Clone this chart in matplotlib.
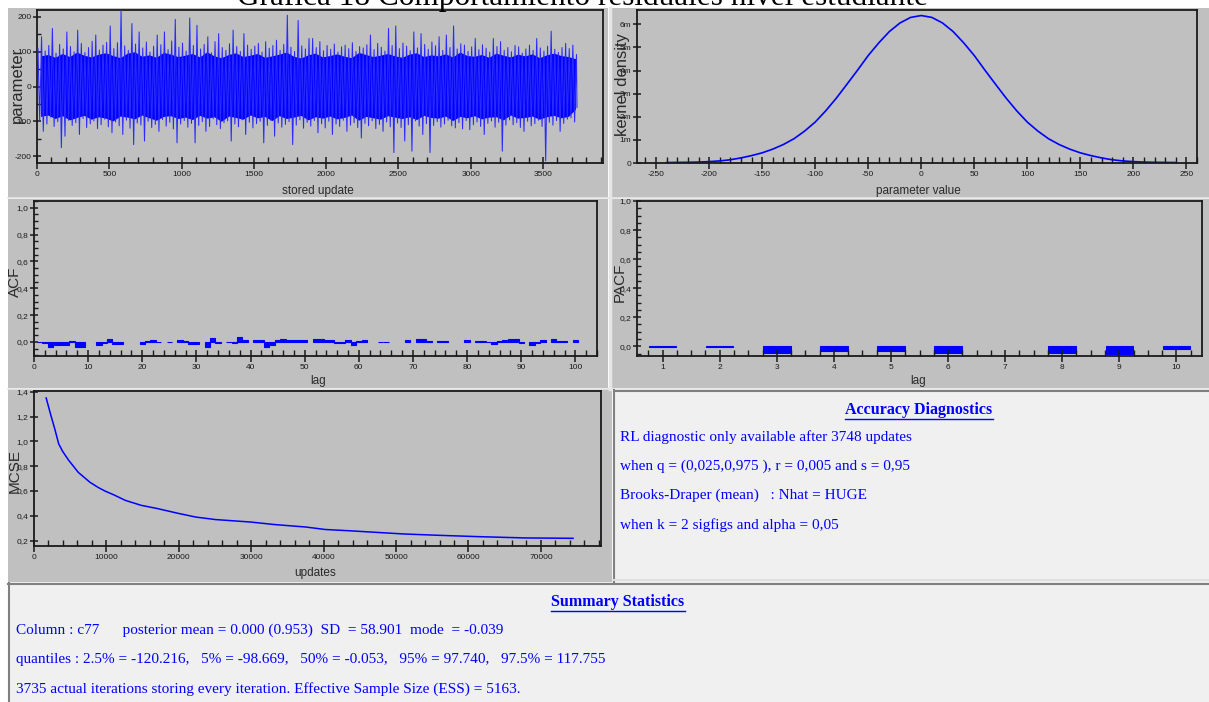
import matplotlib
matplotlib.use("Agg")
import matplotlib.pyplot as plt
import numpy as np
from matplotlib.patches import Rectangle
from matplotlib.lines import Line2D
from matplotlib.ticker import MultipleLocator, FuncFormatter, FixedLocator

plt.rcParams['axes.unicode_minus'] = False

# ---- data ----
# trace: per 25-update bin, highest and lowest excursion of the chain
trace_hi = [110, 143, 102, 118, 167, 96, 121, 108, 157, 115,
            100, 162, 124, 98, 112, 130, 148, 105, 119, 127,
            174, 109, 126, 219, 117, 104, 181, 122, 157, 111,
            128, 99, 116, 148, 120, 157, 106, 131, 193, 113,
            125, 102, 197, 118, 176, 108, 121, 143, 97, 129,
            152, 112, 104, 123, 162, 115, 101, 152, 119, 107,
            116, 124, 99, 129, 110, 118, 133, 104, 121, 205,
            113, 101, 190, 117, 108, 138, 138, 112, 129, 103,
            118, 107, 122, 99, 114, 119, 109, 126, 101, 115,
            111, 120, 148, 106, 124, 113, 102, 167, 118, 174,
            109, 125, 116, 103, 157, 111, 152, 121, 107, 128,
            117, 143, 104, 148, 112, 174, 108, 123, 119, 101,
            114, 138, 106, 120, 110, 99, 138, 115, 129, 104,
            112, 100, 118, 114, 96, 108, 119, 104, 138, 111,
            102, 116, 159, 107, 98, 112, 124, 109, 119, 92]
trace_lo = [-96, -129, -108, -88, -115, -101, -176, -143, -97, -112,
            -104, -138, -92, -118, -107, -99, -121, -110, -94, -116,
            -133, -102, -113, -138, -97, -120, -167, -105, -111, -157,
            -100, -118, -109, -129, -95, -114, -103, -122, -162, -108,
            -98, -117, -106, -162, -112, -101, -129, -115, -93, -110,
            -121, -104, -99, -157, -108, -116, -96, -138, -103, -119,
            -107, -100, -162, -112, -98, -143, -105, -117, -109, -101,
            -167, -111, -96, -120, -103, -114, -98, -133, -107, -119,
            -100, -138, -108, -115, -97, -129, -111, -104, -118, -148,
            -106, -113, -99, -121, -109, -129, -102, -116, -190, -105,
            -118, -157, -110, -186, -99, -114, -138, -107, -190, -112,
            -101, -117, -108, -97, -113, -119, -104, -122, -98, -124,
            -110, -102, -115, -138, -106, -99, -117, -103, -186, -111,
            -96, -110, -104, -118, -129, -100, -113, -107, -97, -115,
            -214, -103, -111, -98, -129, -106, -94, -90, -102, -60]
# dense core of the trace, per 50-update bin
core_hi = [88, 92, 84, 95, 86, 99, 90, 85, 93, 97, 89, 83, 96, 100, 87,
           91, 84, 98, 93, 86, 90, 95, 85, 100, 88, 83, 92, 97, 86, 90,
           95, 84, 88, 93, 99, 87, 82, 91, 96, 85, 89, 94, 87, 83, 98,
           92, 86, 90, 95, 88, 84, 93, 97, 86, 91, 88, 94, 85, 99, 89,
           87, 92, 84, 96, 90, 85, 93, 88, 94, 83, 91, 96, 89, 86, 80]
core_lo = [-86, -82, -92, -84, -96, -89, -83, -94, -87, -91, -99, -85, -88, -93, -82,
           -90, -97, -86, -84, -92, -88, -95, -83, -91, -87, -100, -85, -89, -94, -82,
           -90, -86, -98, -84, -92, -88, -83, -96, -87, -91, -85, -93, -89, -82, -97,
           -86, -90, -94, -84, -88, -92, -87, -95, -83, -89, -91, -85, -98, -86, -90,
           -84, -93, -88, -87, -96, -82, -91, -89, -85, -94, -87, -83, -90, -86, -65]

# kernel density (units of 1e-3)
kd_x = list(range(-240, 250, 10))
kd_y = [0.02, 0.025, 0.03, 0.04, 0.06, 0.09, 0.14, 0.22, 0.32, 0.44,
        0.60, 0.80, 1.05, 1.38, 1.77, 2.26, 2.81, 3.41, 4.02, 4.65,
        5.20, 5.69, 6.06, 6.30, 6.38, 6.30, 6.06, 5.69, 5.20, 4.65,
        4.02, 3.41, 2.81, 2.26, 1.77, 1.38, 1.05, 0.80, 0.60, 0.44,
        0.32, 0.22, 0.14, 0.09, 0.06, 0.04, 0.03, 0.025, 0.02]

# ACF, lags 1..100 (nan = nothing drawn)
nan = np.nan
acf = [0.0, -0.005, -0.035, -0.02, -0.025, -0.025, 0.01, -0.035, -0.035, nan,
       nan, -0.025, -0.01, 0.02, -0.015, -0.015, nan, nan, nan, -0.015,
       0.01, 0.015, 0.0, nan, -0.004, nan, 0.015, 0.005, -0.015, -0.015,
       nan, -0.035, 0.03, -0.01, nan, 0.0, -0.005, 0.04, 0.015, nan,
       0.015, 0.015, -0.035, -0.02, 0.015, 0.025, 0.015, 0.015, 0.015, 0.015,
       nan, 0.025, 0.02, 0.015, 0.015, -0.01, -0.005, 0.015, -0.025, 0.01,
       0.015, nan, nan, -0.003, -0.003, nan, nan, nan, 0.015, nan,
       0.025, 0.02, 0.008, nan, 0.005, 0.005, nan, nan, nan, 0.015,
       nan, 0.005, 0.005, -0.003, -0.015, 0.008, 0.015, 0.018, 0.025, -0.01,
       nan, -0.025, -0.005, 0.015, nan, 0.025, 0.01, 0.008, nan, 0.015]

# PACF, lags 1..10
pacf = [-0.002, -0.002, -0.044, -0.035, -0.035, -0.044, nan, -0.044, -0.055, -0.016]

# MCSE against updates
mcse_x = [1680, 2330, 2870, 3410, 3950, 4760, 5575, 6120, 6930, 7740,
          8830, 9800, 10990, 12600, 14780, 16940, 19920, 22360, 25060,
          29940, 33190, 37520, 40220, 43470, 47260, 51050, 55920, 61600,
          67830, 74440]
mcse_y = [1.35, 1.21, 1.10, 0.98, 0.92, 0.85, 0.79, 0.75, 0.71, 0.67,
          0.63, 0.60, 0.57, 0.525, 0.485, 0.46, 0.42, 0.39, 0.37,
          0.35, 0.33, 0.31, 0.29, 0.28, 0.267, 0.254, 0.243, 0.232,
          0.222, 0.219]

acc_lines = ["RL diagnostic only available after 3748 updates",
             "when q = (0,025,0,975 ), r = 0,005 and s = 0,95",
             "Brooks-Draper (mean)   : Nhat = HUGE",
             "when k = 2 sigfigs and alpha = 0,05"]
sum_lines = ["Column : c77      posterior mean = 0.000 (0.953)  SD  = 58.901  mode  = -0.039",
             "quantiles : 2.5% = -120.216,   5% = -98.669,   50% = -0.053,   95% = 97.740,   97.5% = 117.755",
             "3735 actual iterations storing every iteration. Effective Sample Size (ESS) = 5163."]

W, H = 1209, 702
BLUE = '#0000ff'
GREY = '#c0c0c0'
BOXBG = '#f0f0f0'
SERIF = 'Liberation Serif'
SANS = 'Liberation Sans'


def fb(l, t, r, b):
    return [l / W, 1 - b / H, (r - l) / W, (b - t) / H]


def rect(l, t, r, b, fc, ec='none', lw=0.0, z=0):
    fig.add_artist(Rectangle((l / W, 1 - b / H), (r - l) / W, (b - t) / H,
                             transform=fig.transFigure, facecolor=fc,
                             edgecolor=ec, linewidth=lw, zorder=z))


def hline(x0, x1, y, c, lw):
    fig.add_artist(Line2D([x0 / W, x1 / W], [1 - y / H, 1 - y / H], color=c, lw=lw,
                          transform=fig.transFigure, zorder=1))


def vline(x, y0, y1, c, lw):
    fig.add_artist(Line2D([x / W, x / W], [1 - y0 / H, 1 - y1 / H], color=c, lw=lw,
                          transform=fig.transFigure, zorder=1))


def style(ax, xmaj, xmin, ymaj, ymin=None):
    ax.set_facecolor(GREY)
    for s in ax.spines.values():
        s.set_linewidth(1.3)
        s.set_color('#1a1a1a')
    ax.xaxis.set_major_locator(MultipleLocator(xmaj))
    ax.xaxis.set_minor_locator(MultipleLocator(xmin))
    ax.yaxis.set_major_locator(MultipleLocator(ymaj))
    if ymin:
        ax.yaxis.set_minor_locator(MultipleLocator(ymin))
    ax.tick_params(axis='x', which='major', direction='inout', length=9, width=1.1,
                   labelsize=6, pad=1, colors='#1a1a1a')
    ax.tick_params(axis='x', which='minor', direction='in', length=4, width=1.0,
                   colors='#1a1a1a')
    ax.tick_params(axis='y', which='major', direction='inout', length=6, width=1.1,
                   labelsize=6, pad=1, colors='#1a1a1a')
    ax.tick_params(axis='y', which='minor', direction='in', length=3, width=1.0,
                   colors='#1a1a1a')
    for lab in ax.get_xticklabels() + ax.get_yticklabels():
        lab.set_family(SANS)


comma = FuncFormatter(lambda v, p: f"{v:.1f}".replace('.', ','))

fig = plt.figure(figsize=(W / 100, H / 100), dpi=100)
fig.patch.set_facecolor('white')

# panel backgrounds
rect(8, 8, 608, 198, GREY)
rect(611, 8, W, 198, GREY)
rect(8, 199, 608, 388, GREY)
rect(611, 199, W, 388, GREY)
rect(8, 389, 612, 582, GREY)
rect(613, 390, W, 582, BOXBG)
rect(8, 582, W, H, BOXBG)
vline(609.5, 8, 389, '#e6e6e6', 2.5)
hline(8, W, 198.5, '#e6e6e6', 1.2)
hline(8, W, 388.5, '#e6e6e6', 1.2)
# sunken borders of the text boxes
vline(614, 390, 582, '#808080', 1.5)
hline(614, W, 391, '#808080', 1.5)
hline(613, W, 580, '#e0e0e0', 1.5)
hline(8, W, 583.5, '#808080', 1.5)
vline(9, 583, H, '#808080', 1.5)

# ---- trace ----
ax1 = fig.add_axes(fb(37, 10, 603, 163))
nb = len(trace_hi)
cent = np.arange(nb) * 25 + 12.5
zx = np.empty(2 * nb)
zy = np.empty(2 * nb)
zx[0::2] = cent - 6
zx[1::2] = cent + 6
zy[0::2] = trace_hi
zy[1::2] = trace_lo
zx = np.clip(zx, 0, 3735)
cx = np.clip(np.arange(len(core_hi)) * 50 + 25, 0, 3735)
ax1.fill_between(cx, core_lo, core_hi, color=BLUE, lw=0, zorder=2)
ax1.plot(zx, zy, color='#2a2aff', lw=0.75, zorder=3)
ax1.set_xlim(0, 3915)
ax1.set_ylim(-220, 220)
style(ax1, 500, 100, 100, 50)

# ---- kernel density ----
ax2 = fig.add_axes(fb(637, 10, 1197, 163))
ax2.plot(kd_x, np.array(kd_y) * 1e-3, color=BLUE, lw=1.2)
ax2.set_xlim(-268, 260)
ax2.set_ylim(0, 6.62e-3)
style(ax2, 50, 10, 1e-3)
ax2.yaxis.set_major_locator(FixedLocator([0, 1e-3, 2e-3, 3e-3, 4e-3, 5e-3, 6e-3]))
ax2.yaxis.set_major_formatter(FuncFormatter(lambda v, p: '0' if v == 0 else f"{round(v * 1000)}m"))

# ---- ACF ----
ax3 = fig.add_axes(fb(34, 201, 597, 356))
lags = np.arange(1, len(acf) + 1)
ax3.bar(lags, acf, width=1.0, color=BLUE, edgecolor=BLUE, linewidth=0.8)
ax3.set_xlim(0, 104)
ax3.set_ylim(-0.105, 1.05)
style(ax3, 10, 2, 0.2, 0.05)
ax3.yaxis.set_major_formatter(comma)

# ---- PACF ----
ax4 = fig.add_axes(fb(637, 201, 1202, 356))
plags = np.arange(1, len(pacf) + 1)
ax4.bar(plags, pacf, width=0.48, color=BLUE, edgecolor=BLUE, linewidth=0.8)
ax4.set_xlim(0.55, 10.45)
ax4.set_ylim(-0.067, 1.0)
style(ax4, 1, 0.25, 0.2, 0.05)
ax4.yaxis.set_major_formatter(comma)

# ---- MCSE ----
ax5 = fig.add_axes(fb(34, 391, 601, 546))
ax5.plot(mcse_x, mcse_y, color=BLUE, lw=1.1)
ax5.set_xlim(0, 78300)
ax5.set_ylim(0.157, 1.406)
style(ax5, 10000, 2000, 0.2)
ax5.yaxis.set_major_formatter(comma)

# axis titles placed where MLwiN puts them
lab = dict(family=SANS, color='#2a2a2a')
fig.text(17 / W, 1 - 85 / H, 'parameter', rotation=90, ha='center', va='center', fontsize=12, **lab)
fig.text(623 / W, 1 - 84 / H, 'kernel density', rotation=90, ha='center', va='center', fontsize=12, **lab)
fig.text(15 / W, 1 - 282 / H, 'ACF', rotation=90, ha='center', va='center', fontsize=11, **lab)
fig.text(620 / W, 1 - 282 / H, 'PACF', rotation=90, ha='center', va='center', fontsize=11, **lab)
fig.text(15 / W, 1 - 471 / H, 'MCSE', rotation=90, ha='center', va='center', fontsize=11, **lab)
fig.text(318 / W, 1 - 191 / H, 'stored update', ha='center', va='center', fontsize=8.5, **lab)
fig.text(918 / W, 1 - 191 / H, 'parameter value', ha='center', va='center', fontsize=8.5, **lab)
fig.text(318 / W, 1 - 381 / H, 'lag', ha='center', va='center', fontsize=8.5, **lab)
fig.text(918 / W, 1 - 381 / H, 'lag', ha='center', va='center', fontsize=8.5, **lab)
fig.text(315 / W, 1 - 573 / H, 'updates', ha='center', va='center', fontsize=8.5, **lab)

# page title, cut off at the top of the screenshot
fig.text(582 / W, 1 - 5 / H, 'Gráfica 18 Comportamiento residuales nivel estudiante',
         ha='center', va='baseline', fontsize=22.5, family=SERIF, color='black')

# text boxes
FS = 11.0
heads = []
heads.append(fig.text(919 / W, 1 - 410 / H, 'Accuracy Diagnostics', ha='center', va='center',
                      fontsize=11.5, family=SERIF, weight='bold', color=BLUE))
for i, s in enumerate(acc_lines):
    fig.text(620 / W, 1 - (437 + 29.3 * i) / H, s, ha='left', va='center',
             fontsize=FS, family=SERIF, color=BLUE)
heads.append(fig.text(618 / W, 1 - 602 / H, 'Summary Statistics', ha='center', va='center',
                      fontsize=11.5, family=SERIF, weight='bold', color=BLUE))
for i, s in enumerate(sum_lines):
    fig.text(16 / W, 1 - (630 + 29.5 * i) / H, s, ha='left', va='center',
             fontsize=FS, family=SERIF, color=BLUE)

# underline the headings
r = fig.canvas.get_renderer()
for t in heads:
    bb = t.get_window_extent(renderer=r)
    y = bb.y0 - 1
    fig.add_artist(Line2D([bb.x0 / W, bb.x1 / W], [y / H, y / H], color=BLUE, lw=1.0,
                          transform=fig.transFigure))

fig.savefig('out.png', dpi=100, facecolor=fig.get_facecolor())
